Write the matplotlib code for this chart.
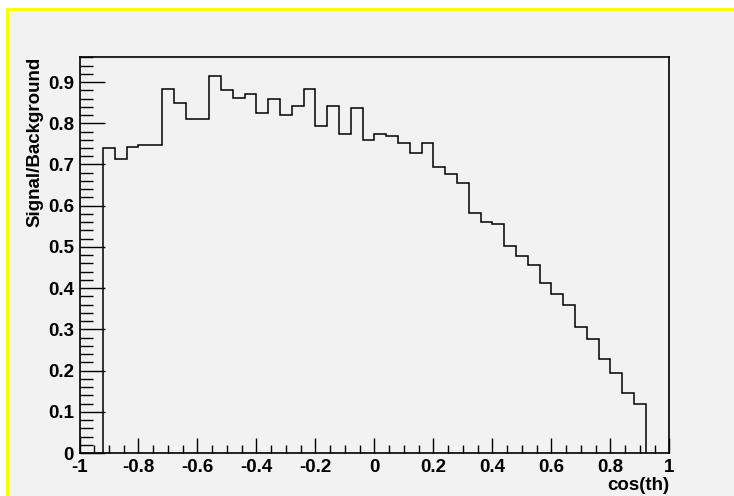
import matplotlib
matplotlib.use('Agg')
from matplotlib import pyplot as plt
from matplotlib.ticker import MultipleLocator, FuncFormatter
from matplotlib.patches import Rectangle
import numpy as np

XLABEL = 'cos(th)'
YLABEL = 'Signal/Background'
BG = '#f2f2f2'
YELLOW = '#ffff00'
FONT = 'Liberation Sans'
FSIZE = 13.5

# bin edges (width 0.04) for the non-empty part of the histogram
edges = np.round(np.linspace(-0.92, 0.92, 47), 2)
ratio = [0.739, 0.714, 0.743, 0.747, 0.747, 0.882, 0.850, 0.811, 0.811, 0.915,
         0.880, 0.861, 0.872, 0.824, 0.858, 0.821, 0.841, 0.884, 0.793, 0.841,
         0.775, 0.838, 0.759, 0.773, 0.768, 0.752, 0.729, 0.752, 0.693, 0.677,
         0.656, 0.583, 0.561, 0.555, 0.502, 0.477, 0.455, 0.413, 0.385, 0.360,
         0.305, 0.276, 0.227, 0.193, 0.146, 0.120]

W, H = 734, 496
fig = plt.figure(figsize=(W / 100, H / 100), dpi=100)
fig.patch.set_facecolor('white')

# canvas: gray fill with yellow highlight at top and left only
fig.patches.append(Rectangle((6 / W, -1), 2, 2 - 8 / H, transform=fig.transFigure,
                             facecolor=YELLOW, edgecolor='none', zorder=-3))
fig.patches.append(Rectangle((9 / W, -1), 2, 2 - 11 / H, transform=fig.transFigure,
                             facecolor=BG, edgecolor='none', zorder=-2))

left, right, top, bottom = 79.5, 669.3, 57, 453
ax = fig.add_axes([left / W, (H - bottom) / H, (right - left) / W, (bottom - top) / H])
ax.set_facecolor(BG)

ax.stairs(ratio, edges, baseline=0, color='black', linewidth=1.1)

ax.set_xlim(-1, 1)
ax.set_ylim(0, max(ratio) * 1.05)

ax.xaxis.set_major_locator(MultipleLocator(0.2))
ax.xaxis.set_minor_locator(MultipleLocator(0.05))
ax.yaxis.set_major_locator(MultipleLocator(0.1))
ax.yaxis.set_minor_locator(MultipleLocator(0.02))
fmt = FuncFormatter(lambda v, p: '%g' % round(v, 2))
ax.xaxis.set_major_formatter(fmt)
ax.yaxis.set_major_formatter(fmt)

ax.tick_params(axis='both', which='both', direction='in', top=False, right=False,
               width=1.0, color='black')
ax.tick_params(axis='x', which='major', length=11, pad=4)
ax.tick_params(axis='x', which='minor', length=6)
ax.tick_params(axis='y', which='major', length=18, pad=4)
ax.tick_params(axis='y', which='minor', length=9)

for lab in ax.get_xticklabels() + ax.get_yticklabels():
    lab.set_fontfamily(FONT)
    lab.set_fontweight('bold')
    lab.set_fontsize(FSIZE)

for sp in ax.spines.values():
    sp.set_linewidth(1.2)
    sp.set_color('black')

ax.set_xlabel(XLABEL, fontfamily=FONT, fontweight='bold', fontsize=FSIZE,
              ha='right')
ax.xaxis.set_label_coords(1.0, -33 / (bottom - top), transform=ax.transAxes)
ax.xaxis.label.set_va('center')
ax.set_ylabel(YLABEL, fontfamily=FONT, fontweight='bold', fontsize=FSIZE,
              ha='right')
ax.yaxis.set_label_coords(-(left - 34.5) / (right - left), 1.0, transform=ax.transAxes)
ax.yaxis.label.set_va('center')

fig.savefig('out.png', dpi=100, facecolor=fig.get_facecolor())
